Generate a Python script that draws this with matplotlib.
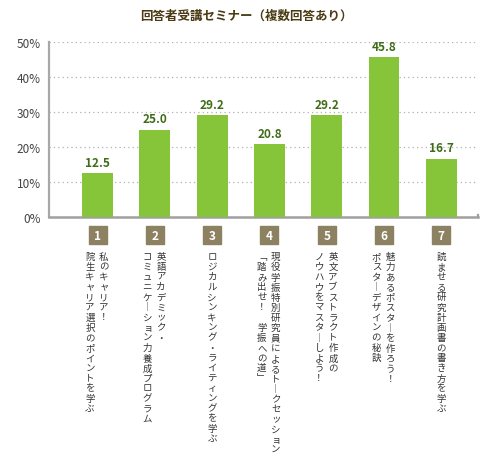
import matplotlib
matplotlib.use('Agg')
import matplotlib.pyplot as plt

plt.rcParams['font.family'] = ['Noto Sans CJK JP', 'DejaVu Sans']

# データ
values = [12.5, 25.0, 29.2, 20.8, 29.2, 45.8, 16.7]
numbers = ['1', '2', '3', '4', '5', '6', '7']
# 各ラベル: (右の列, 左の列)
labels = [
    ('私のキャリア！', '院生キャリア選択のポイントを学ぶ'),
    ('英語アカデミック・', 'コミュニケーション力養成プログラム'),
    ('ロジカルシンキング・ライティングを学ぶ', ''),
    ('現役学振特別研究員によるトークセッション', '「踏み出せ！　学振への道」'),
    ('英文アブストラクト作成の', 'ノウハウをマスターしよう！'),
    ('魅力あるポスターを作ろう！', 'ポスターデザインの秘訣'),
    ('読ませる研究計画書の書き方を学ぶ', ''),
]
yticks = [0, 10, 20, 30, 40, 50]
title = '回答者受講セミナー（複数回答あり）'

GREEN = '#86c43a'
VAL_COLOR = '#3f6c17'
BOX_COLOR = '#8c8160'


def tate(s):
    # 縦書き用に文字を縦に並べる
    rep = {'ー': '︱', '「': '﹁', '」': '﹂'}
    return '\n'.join(rep.get(c, c) for c in s)


fig = plt.figure(figsize=(4.97, 4.6), dpi=100)
ax = fig.add_axes([0.0986, 0.526, 0.863, 0.3804])

x = list(range(len(values)))
ax.bar(x, values, width=0.54, color=GREEN, zorder=3)
ax.set_xlim(-0.85, 6.64)
ax.set_ylim(0, 50)

for i, v in zip(x, values):
    ax.annotate(f'{v:.1f}', (i, v), xytext=(0, 3), textcoords='offset points',
                ha='center', va='bottom', fontsize=8.5, fontweight='bold',
                color=VAL_COLOR)

# グリッド
for t in yticks[1:]:
    ax.axhline(t, color='#b0b0b0', lw=0.9, ls=(0, (1, 2.5)), zorder=1)

ax.set_yticks(yticks)
ax.set_yticklabels([f'{t}%' for t in yticks], fontsize=8.5, color='#444444')
ax.set_xticks([])
ax.tick_params(axis='y', length=0, pad=6)
for s in ['top', 'right']:
    ax.spines[s].set_visible(False)
ax.spines['left'].set_color('#a8a8a8')
ax.spines['left'].set_linewidth(1.6)
ax.spines['bottom'].set_color('#a0a0a0')
ax.spines['bottom'].set_linewidth(1.8)
ax.plot([1, 1], [0, 0.012], transform=ax.transAxes, color='#a0a0a0', lw=1.6,
        clip_on=False)

# 番号ボックスとラベル
tr = ax.get_xaxis_transform()
ax.plot(x, [-0.103] * len(x), 's', ms=13.5, color=BOX_COLOR, transform=tr,
        clip_on=False)
for i, n, (r, l) in zip(x, numbers, labels):
    ax.text(i, -0.103, n, transform=tr, ha='center', va='center',
            fontsize=8.5, color='white', fontweight='bold')
    if l:
        cols = [(r, 4.5), (l, -5.5)]
    else:
        cols = [(r, 0)]
    for txt, dx in cols:
        ax.annotate(tate(txt), (i, 0), xycoords=tr, xytext=(dx, -25),
                    textcoords='offset points', ha='center', va='top',
                    fontsize=6.8, color='#333333', linespacing=1.16)

fig.text(0.495, 0.965, title, ha='center', va='center', fontsize=9,
         fontweight='bold', color='#4a3b14')

fig.savefig('out.png', dpi=100)
